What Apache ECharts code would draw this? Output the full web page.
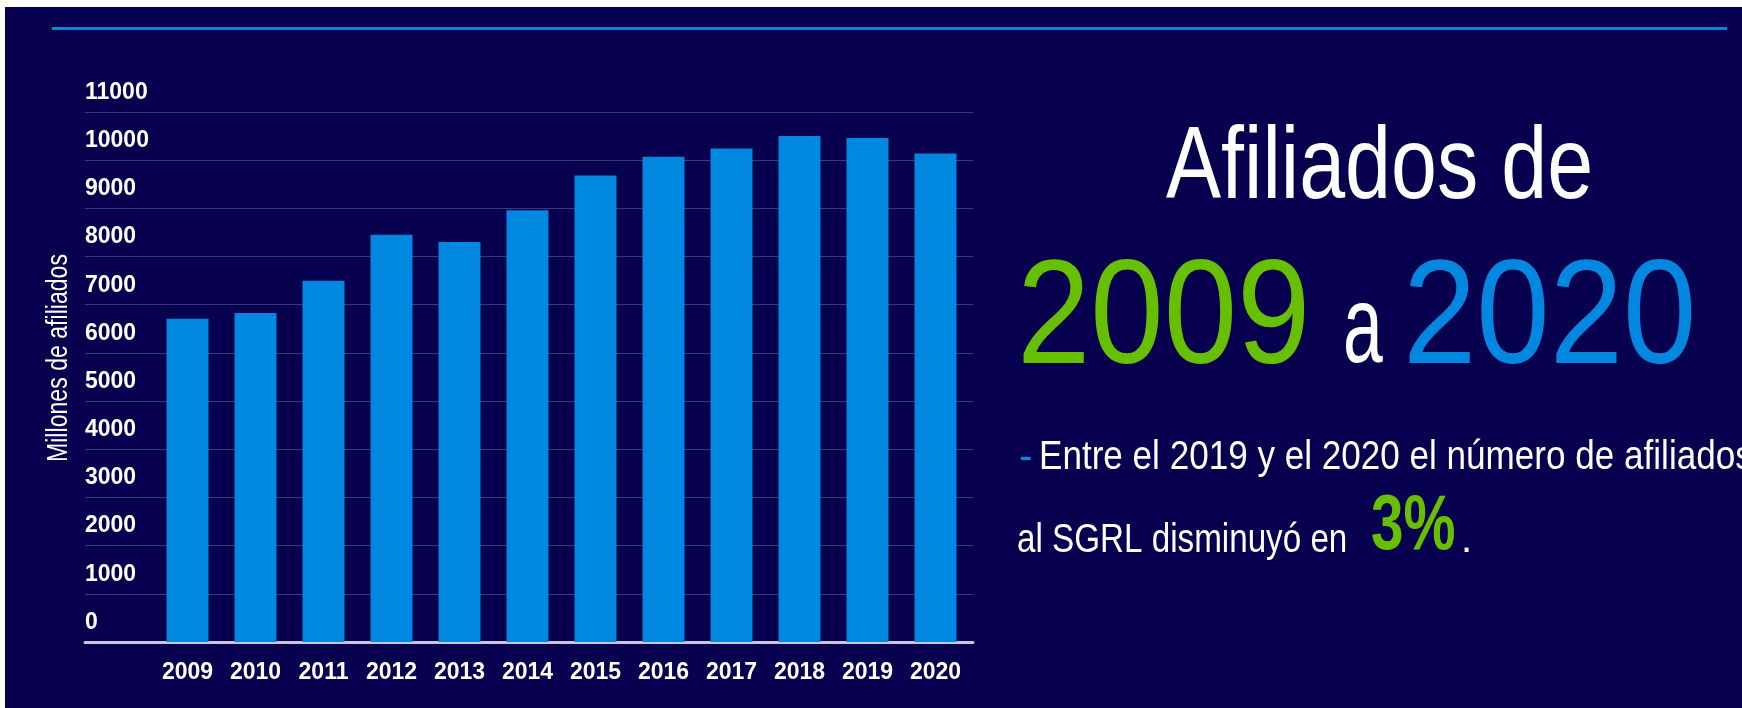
<!DOCTYPE html>
<html>
<head>
<meta charset="utf-8">
<script src="https://cdn.jsdelivr.net/npm/echarts@6/dist/echarts.min.js"></script>
<style>
    html, body { margin: 0; padding: 0; background: #ffffff; }
    #chart { width: 1742px; height: 708px; }
</style>
</head>
<body>
<div id="chart"></div>
<script>
    // afiliados por año
    var years = ['2009', '2010', '2011', '2012', '2013', '2014', '2015', '2016', '2017', '2018', '2019', '2020'];
    var afiliados = [6710, 6830, 7500, 8450, 8300, 8960, 9680, 10070, 10245, 10500, 10460, 10140];
    var yMin = 0, yMax = 11000, yStep = 1000;

    var bg = '#06004f';
    var green = '#66c000';
    var blue = '#0088e0';
    var font = '"Liberation Sans", Arial, sans-serif';

    var chart = echarts.init(document.getElementById('chart'));

    // texto libre; scaleX estrecha la fuente para imitar la condensada original
    function txt(x, y, text, size, color, extra) {
        var el = {
            type: 'text', x: x, y: y, silent: true,
            style: {
                text: text, fill: color, fontSize: size, fontFamily: font,
                fontWeight: 'normal', align: 'left', verticalAlign: 'middle'
            }
        };
        if (extra) {
            for (var k in extra) {
                if (k === 'style') Object.assign(el.style, extra.style);
                else el[k] = extra[k];
            }
        }
        return el;
    }

    chart.setOption({
        backgroundColor: bg,
        animation: false,
        grid: [
            // rejilla y etiquetas del eje y (más ancha que las barras)
            {left: 85, right: 769, top: 112, bottom: 66},
            // barras
            {left: 153.5, right: 772.5, top: 112, bottom: 66}
        ],
        xAxis: [
            {
                gridIndex: 0, type: 'value', min: 0, max: 1,
                axisLine: {show: true, lineStyle: {color: '#c9c7df', width: 3}},
                axisTick: {show: false}, axisLabel: {show: false}, splitLine: {show: false}
            },
            {
                gridIndex: 1, type: 'category', data: years,
                axisLine: {show: false}, axisTick: {show: false},
                axisLabel: {
                    interval: 0, color: '#ffffff', fontFamily: font, fontWeight: 'bold',
                    fontSize: 23, margin: 19
                }
            }
        ],
        yAxis: [
            {
                gridIndex: 0, type: 'value', min: yMin, max: yMax, interval: yStep,
                axisLine: {show: false}, axisTick: {show: false},
                axisLabel: {
                    inside: true, margin: 0, color: '#ffffff', fontFamily: font,
                    fontWeight: 'bold', fontSize: 23, align: 'left',
                    verticalAlign: 'bottom', padding: [0, 0, 8, 0],
                    formatter: function (v) { return String(v); }
                },
                splitLine: {show: true, lineStyle: {color: '#3b3782', width: 1}}
            },
            {
                gridIndex: 1, type: 'value', min: yMin, max: yMax, interval: yStep,
                show: false, splitLine: {show: false}
            }
        ],
        series: [{
            type: 'bar',
            xAxisIndex: 1, yAxisIndex: 1,
            data: afiliados,
            barWidth: 42,
            itemStyle: {color: blue},
            z: 3
        }],
        graphic: [
            {type: 'rect', silent: true, shape: {x: 0, y: 0, width: 1742, height: 7}, style: {fill: '#ffffff'}},
            {type: 'rect', silent: true, shape: {x: 0, y: 0, width: 5, height: 708}, style: {fill: '#ffffff'}},
            {type: 'rect', silent: true, shape: {x: 52, y: 27, width: 1675, height: 3}, style: {fill: '#0a84d8'}},
            txt(59, 358, 'Millones de afiliados', 30, '#ffffff', {
                rotation: Math.PI / 2, scaleX: 0.77, style: {align: 'center'}
            }),
            txt(1166, 170, 'Afiliados de', 102, '#ffffff', {scaleX: 0.81}),
            txt(1017, 322, '2009', 149, green, {scaleX: 0.885}),
            txt(1343, 332, 'a', 110, '#ffffff', {scaleX: 0.65}),
            txt(1403, 322, '2020', 149, blue, {scaleX: 0.885}),
            txt(1019, 458, '-', 40, blue),
            txt(1039, 458, 'Entre el 2019 y el 2020 el número de afiliados', 40, '#ffffff', {scaleX: 0.877}),
            txt(1017, 541, 'al SGRL disminuyó en', 40, '#ffffff', {scaleX: 0.83}),
            txt(1371, 528, '3%', 77, green, {scaleX: 0.76, style: {fontWeight: 'bold'}}),
            txt(1461, 541, '.', 40, '#ffffff')
        ]
    });
</script>
</body>
</html>
